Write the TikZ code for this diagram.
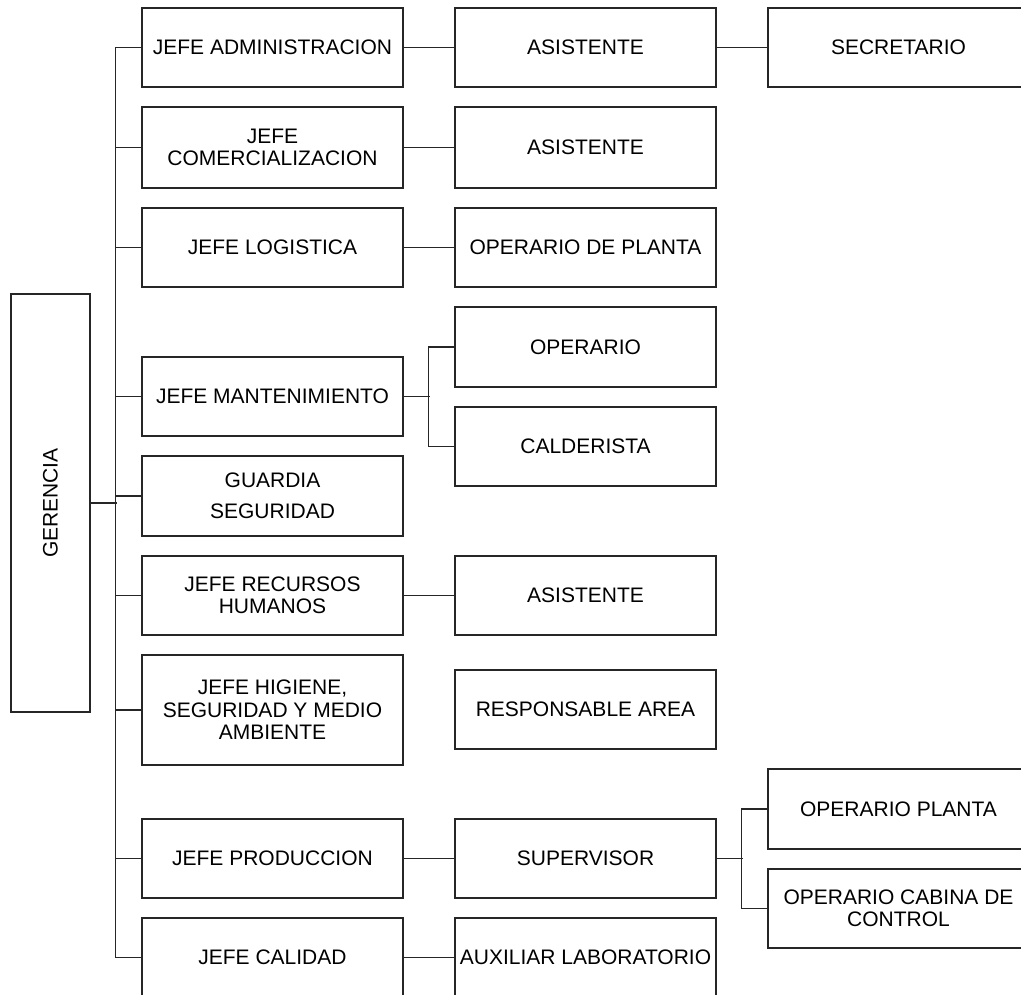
\documentclass[tikz,border=0pt]{standalone}
\usepackage{fontspec}
\setmainfont{Liberation Sans}
\begin{document}
\begin{tikzpicture}[x=1pt,y=-1pt,
  line width=1.3pt, draw=black!85,
  box/.style={draw=black!85, line width=1.3pt, minimum width=261pt,
    inner sep=0pt, align=center, font=\fontsize{21}{22.5}\selectfont},
  link/.style={draw=black!85, line width=1.3pt}]
\useasboundingbox (0,0) rectangle (1021,995);
\clip (0,0) rectangle (1021,995);

% top management
\node[box, minimum width=79pt, minimum height=418pt] (ger) at (50.5,503) {};
\node[rotate=90, font=\fontsize{21}{22.5}\selectfont] at (ger) {GERENCIA};

% department heads
\node[box, minimum height=79pt] (adm) at (272.5,47.5) {JEFE ADMINISTRACION};
\node[box, minimum height=81pt] (com) at (272.5,147.5) {JEFE\\COMERCIALIZACION};
\node[box, minimum height=79pt] (log) at (272.5,247.5) {JEFE LOGISTICA};
\node[box, minimum height=79pt] (man) at (272.5,396.5) {JEFE MANTENIMIENTO};
\node[box, minimum height=80pt, font=\fontsize{21}{31}\selectfont] (gua) at (272.5,496) {GUARDIA\\SEGURIDAD};
\node[box, minimum height=79pt] (rrhh) at (272.5,595.5) {JEFE RECURSOS\\HUMANOS};
\node[box, minimum height=110pt] (hig) at (272.5,710) {JEFE HIGIENE,\\SEGURIDAD Y MEDIO\\AMBIENTE};
\node[box, minimum height=79pt] (pro) at (272.5,858.5) {JEFE PRODUCCION};
\node[box, minimum height=79pt] (cal) at (272.5,957.5) {JEFE CALIDAD};

% second level
\node[box, minimum height=79pt] (as1) at (585.5,47.5) {ASISTENTE};
\node[box, minimum height=81pt] (as2) at (585.5,147.5) {ASISTENTE};
\node[box, minimum height=79pt] (opp) at (585.5,247.5) {OPERARIO DE PLANTA};
\node[box, minimum height=80pt] (op) at (585.5,347) {OPERARIO};
\node[box, minimum height=79pt] (cald) at (585.5,446.5) {CALDERISTA};
\node[box, minimum height=79pt] (as3) at (585.5,595.5) {ASISTENTE};
\node[box, minimum height=79pt] (resp) at (585.5,709.5) {RESPONSABLE AREA};
\node[box, minimum height=79pt] (sup) at (585.5,858.5) {SUPERVISOR};
\node[box, minimum height=79pt] (aux) at (585.5,957.5) {AUXILIAR LABORATORIO};

% third level
\node[box, minimum height=79pt] (sec) at (898.5,47.5) {SECRETARIO};
\node[box, minimum height=80pt] (opl) at (898.5,809) {OPERARIO PLANTA};
\node[box, minimum height=79pt] (opc) at (898.5,908.5) {OPERARIO CABINA DE\\CONTROL};

% trunk from management to the department heads
\draw[link] (ger.east) -- ++(26,0);
\draw[link] (adm.west) -- ++(-26,0) |- (cal.west);
\foreach \n in {com,log,man,gua,rrhh,hig,pro}
  \draw[link] (\n.west) -- ++(-26,0);

% department heads to their staff
\draw[link] (adm.east) -- (as1.west);
\draw[link] (as1.east) -- (sec.west);
\draw[link] (com.east) -- (as2.west);
\draw[link] (log.east) -- (opp.west);
\draw[link] (man.east) -- ++(26,0) coordinate (mj);
\draw[link] (op.west) -- ++(-26,0) |- (cald.west);
\draw[link] (rrhh.east) -- (as3.west);
\draw[link] (pro.east) -- (sup.west);
\draw[link] (sup.east) -- ++(26,0) coordinate (sj);
\draw[link] (opl.west) -- ++(-26,0) |- (opc.west);
\draw[link] (cal.east) -- (aux.west);
\end{tikzpicture}
\end{document}
